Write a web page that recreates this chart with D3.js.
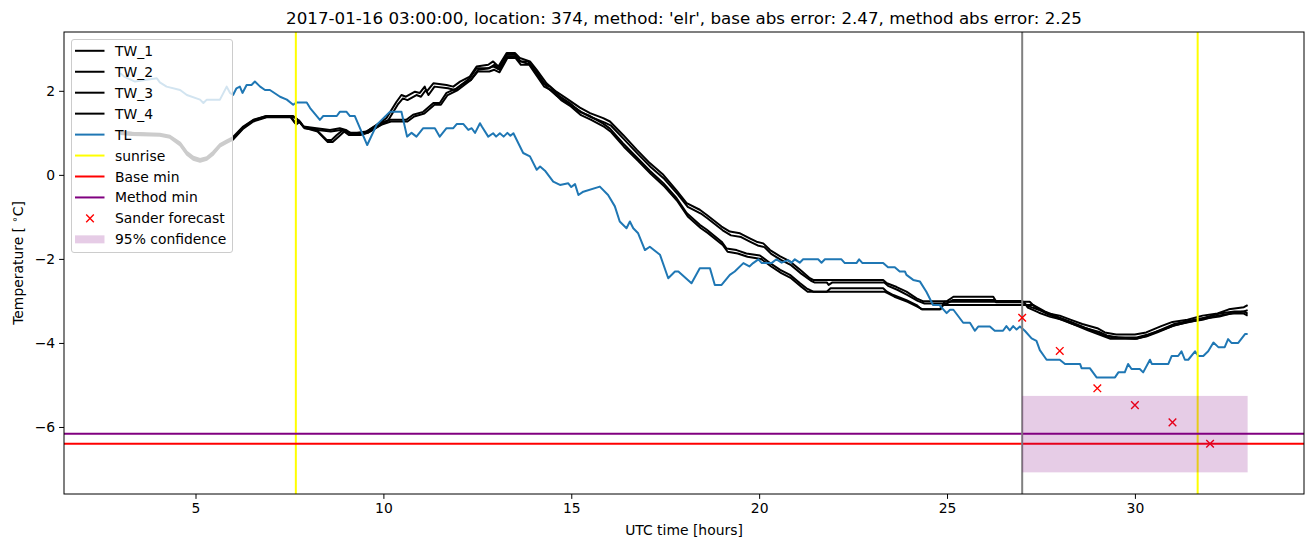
<!DOCTYPE html>
<html>
<head>
<meta charset="utf-8">
<script src="https://cdn.jsdelivr.net/npm/d3@7"></script>
<style>
  html, body { margin: 0; padding: 0; background: #fff; }
  svg { display: block; font-family: "DejaVu Sans", sans-serif; }
</style>
</head>
<body>
<svg id="chart" width="1313" height="547"></svg>
<script>
// ---------------- data ----------------
const titleText = "2017-01-16 03:00:00, location: 374, method: 'elr', base abs error: 2.47, method abs error: 2.25";
const xLabel = "UTC time [hours]";
const xTicks = [5, 10, 15, 20, 25, 30];
const yTicks = [2, 0, -2, -4, -6];

const tw1 = [[3.0,1.03],[3.3,1.0],[4.05,0.98],[4.32,0.93],[4.59,0.77],[4.77,0.55],[4.94,0.43],[5.12,0.38],[5.3,0.42],[5.47,0.55],[5.65,0.73],[5.83,0.82],[6.0,0.9],[6.27,1.15],[6.54,1.31],[6.89,1.4],[7.51,1.4],[7.65,1.23],[7.75,1.3],[7.87,1.15],[8.22,1.07],[8.49,0.83],[8.62,0.83],[8.76,0.95],[8.93,1.07],[9.05,1.0],[9.3,1.0],[9.55,1.03],[9.82,1.19],[10.08,1.35],[10.35,1.74],[10.48,1.9],[10.6,1.86],[10.84,1.98],[10.97,1.95],[11.1,2.1],[11.15,1.98],[11.33,2.18],[11.68,2.14],[11.86,2.1],[12.04,2.22],[12.3,2.34],[12.48,2.58],[12.79,2.62],[12.92,2.7],[13.06,2.58],[13.28,2.9],[13.5,2.9],[13.63,2.78],[13.9,2.7],[14.08,2.5],[14.34,2.18],[14.6,1.98],[14.87,1.82],[15.23,1.6],[15.5,1.47],[15.85,1.35],[16.03,1.27],[16.38,0.95],[16.74,0.6],[17.09,0.28],[17.45,0.0],[17.8,-0.37],[18.07,-0.67],[18.42,-0.83],[18.6,-0.95],[19.0,-1.23],[19.22,-1.35],[19.49,-1.39],[19.75,-1.51],[19.93,-1.59],[20.11,-1.63],[20.29,-1.79],[20.56,-1.94],[20.82,-2.06],[21.09,-2.26],[21.35,-2.46],[21.44,-2.5],[23.3,-2.5],[23.4,-2.58],[23.66,-2.67],[23.92,-2.78],[24.19,-2.94],[24.37,-3.01],[24.99,-3.01],[25.17,-2.9],[26.23,-2.9],[26.3,-3.0],[27.0,-3.0],[27.1,-3.1],[27.4,-3.2],[27.7,-3.3],[28.0,-3.35],[28.3,-3.45],[28.6,-3.55],[29.0,-3.65],[29.2,-3.75],[29.5,-3.8],[30.0,-3.8],[30.3,-3.75],[30.7,-3.6],[31.0,-3.5],[31.4,-3.45],[31.8,-3.35],[32.2,-3.3],[32.5,-3.2],[32.9,-3.15],[33.0,-3.1]];

const tw2 = [[3.0,1.0],[3.3,0.97],[4.05,0.95],[4.32,0.9],[4.59,0.73],[4.77,0.5],[4.94,0.38],[5.12,0.33],[5.3,0.38],[5.47,0.5],[5.65,0.69],[5.83,0.78],[6.0,0.86],[6.27,1.12],[6.54,1.29],[6.89,1.38],[7.55,1.38],[7.68,1.2],[7.78,1.27],[7.9,1.12],[8.25,1.03],[8.52,0.78],[8.65,0.78],[8.8,0.9],[8.96,1.03],[9.08,0.95],[9.32,0.95],[9.58,1.0],[9.85,1.15],[10.12,1.29],[10.38,1.67],[10.52,1.82],[10.64,1.78],[10.88,1.9],[11.0,1.86],[11.13,2.02],[11.2,1.9],[11.36,2.1],[11.72,2.06],[11.9,2.02],[12.08,2.14],[12.33,2.26],[12.52,2.5],[12.82,2.54],[12.95,2.62],[13.09,2.5],[13.3,2.82],[13.52,2.82],[13.66,2.7],[13.92,2.62],[14.1,2.42],[14.36,2.08],[14.62,1.88],[14.9,1.72],[15.26,1.5],[15.53,1.37],[15.88,1.25],[16.06,1.17],[16.4,0.85],[16.77,0.5],[17.12,0.18],[17.48,-0.1],[17.83,-0.46],[18.1,-0.76],[18.45,-0.92],[18.63,-1.04],[19.03,-1.32],[19.25,-1.44],[19.52,-1.48],[19.78,-1.6],[19.96,-1.68],[20.14,-1.72],[20.32,-1.88],[20.59,-2.03],[20.85,-2.15],[21.12,-2.35],[21.38,-2.52],[21.47,-2.56],[21.8,-2.56],[21.85,-2.62],[21.95,-2.56],[23.33,-2.56],[23.43,-2.64],[23.69,-2.74],[23.95,-2.86],[24.22,-3.0],[24.4,-3.06],[25.0,-3.06],[25.15,-2.98],[26.25,-2.98],[26.3,-3.03],[27.05,-3.03],[27.15,-3.16],[27.45,-3.28],[27.75,-3.38],[28.05,-3.44],[28.35,-3.55],[28.65,-3.64],[29.05,-3.74],[29.25,-3.82],[29.55,-3.87],[30.05,-3.87],[30.35,-3.8],[30.75,-3.68],[31.05,-3.58],[31.45,-3.5],[31.85,-3.42],[32.25,-3.37],[32.55,-3.3],[32.9,-3.25],[33.0,-3.22]];

const tw3 = [[3.0,1.0],[3.3,1.0],[4.05,0.95],[4.32,0.91],[4.59,0.75],[4.77,0.52],[4.94,0.4],[5.12,0.36],[5.3,0.4],[5.47,0.52],[5.65,0.71],[5.83,0.79],[6.0,0.87],[6.27,1.13],[6.54,1.3],[6.89,1.4],[7.6,1.4],[7.7,1.33],[7.87,1.15],[8.22,1.11],[8.58,1.07],[8.84,1.11],[9.0,1.07],[9.15,0.98],[9.35,0.98],[9.55,1.03],[9.91,1.23],[10.17,1.31],[10.61,1.31],[10.79,1.43],[11.06,1.5],[11.33,1.71],[11.5,1.71],[11.68,1.95],[11.95,2.06],[12.3,2.3],[12.48,2.54],[12.79,2.54],[12.92,2.58],[13.06,2.52],[13.28,2.86],[13.5,2.86],[13.63,2.7],[13.86,2.7],[13.94,2.58],[14.25,2.18],[14.43,2.1],[14.7,1.86],[14.96,1.71],[15.23,1.5],[15.5,1.4],[15.85,1.22],[16.03,1.1],[16.38,0.75],[16.74,0.42],[17.09,0.1],[17.45,-0.2],[17.8,-0.55],[18.07,-0.91],[18.42,-1.19],[18.6,-1.3],[19.0,-1.59],[19.13,-1.75],[19.4,-1.79],[19.66,-1.87],[20.02,-1.92],[20.29,-2.1],[20.56,-2.26],[20.82,-2.38],[21.09,-2.58],[21.26,-2.7],[21.44,-2.78],[21.8,-2.78],[21.9,-2.7],[23.3,-2.7],[23.4,-2.78],[23.57,-2.86],[23.92,-2.98],[24.19,-3.1],[24.32,-3.2],[24.8,-3.2],[24.9,-3.1],[26.41,-3.1],[27.3,-3.1],[27.6,-3.25],[28.0,-3.4],[28.3,-3.5],[28.7,-3.65],[29.0,-3.75],[29.3,-3.85],[30.0,-3.9],[30.3,-3.85],[30.6,-3.75],[31.0,-3.6],[31.4,-3.5],[31.8,-3.45],[32.2,-3.35],[32.6,-3.3],[32.9,-3.3],[33.0,-3.35]];

const tw4 = [[3.0,0.97],[3.3,0.95],[4.05,0.93],[4.32,0.88],[4.59,0.7],[4.77,0.48],[4.94,0.36],[5.12,0.31],[5.3,0.36],[5.47,0.48],[5.65,0.67],[5.83,0.76],[6.0,0.84],[6.27,1.1],[6.54,1.27],[6.89,1.37],[7.63,1.37],[7.73,1.3],[7.9,1.11],[8.25,1.07],[8.6,1.03],[8.87,1.07],[9.03,1.03],[9.18,0.95],[9.38,0.95],[9.58,1.0],[9.94,1.19],[10.2,1.27],[10.64,1.27],[10.82,1.39],[11.09,1.46],[11.36,1.67],[11.53,1.67],[11.71,1.9],[11.98,2.02],[12.33,2.26],[12.51,2.46],[12.82,2.46],[12.95,2.5],[13.09,2.44],[13.3,2.78],[13.52,2.78],[13.66,2.62],[13.88,2.62],[13.97,2.5],[14.28,2.1],[14.46,2.02],[14.73,1.78],[14.99,1.63],[15.26,1.42],[15.53,1.31],[15.88,1.14],[16.06,1.02],[16.4,0.67],[16.77,0.34],[17.12,0.02],[17.48,-0.28],[17.83,-0.63],[18.1,-0.99],[18.45,-1.27],[18.63,-1.38],[19.03,-1.67],[19.16,-1.83],[19.43,-1.87],[19.69,-1.95],[20.05,-2.0],[20.32,-2.18],[20.59,-2.34],[20.85,-2.46],[21.12,-2.66],[21.29,-2.78],[21.47,-2.78],[23.33,-2.78],[23.43,-2.82],[23.6,-2.9],[23.95,-3.02],[24.22,-3.14],[24.35,-3.2],[24.83,-3.2],[24.93,-3.02],[27.2,-3.02],[27.35,-3.15],[27.65,-3.3],[28.05,-3.45],[28.35,-3.55],[28.75,-3.7],[29.05,-3.8],[29.35,-3.9],[30.05,-3.9],[30.35,-3.82],[30.65,-3.7],[31.05,-3.55],[31.45,-3.47],[31.85,-3.4],[32.25,-3.3],[32.65,-3.25],[32.9,-3.25],[33.0,-3.3]];

const tl = [[3.0,2.42],[3.1,2.34],[3.39,2.22],[3.97,2.3],[4.05,2.2],[4.23,2.1],[4.59,2.02],[4.77,1.9],[5.12,1.79],[5.21,1.71],[5.3,1.79],[5.65,1.79],[5.83,2.1],[5.92,1.95],[6.0,1.9],[6.09,2.06],[6.18,2.1],[6.25,1.95],[6.36,2.14],[6.49,2.14],[6.58,2.22],[6.72,2.1],[6.85,2.02],[6.98,2.02],[7.25,1.86],[7.43,1.79],[7.6,1.67],[7.69,1.72],[7.96,1.72],[8.05,1.59],[8.31,1.31],[8.4,1.4],[8.76,1.4],[8.84,1.5],[9.02,1.5],[9.11,1.4],[9.24,1.4],[9.57,0.71],[9.82,1.19],[10.17,1.5],[10.48,1.5],[10.63,0.91],[10.75,1.0],[10.88,0.91],[11.06,1.11],[11.37,1.11],[11.5,0.91],[11.68,1.11],[11.86,1.11],[11.95,1.21],[12.13,1.21],[12.26,1.07],[12.35,1.11],[12.44,1.0],[12.57,1.23],[12.62,1.15],[12.79,0.91],[12.92,0.99],[13.0,0.91],[13.1,0.99],[13.2,0.91],[13.3,1.0],[13.38,0.93],[13.46,0.99],[13.72,0.52],[13.9,0.44],[14.08,0.12],[14.17,0.2],[14.3,0.1],[14.52,-0.16],[14.7,-0.24],[14.92,-0.2],[15.0,-0.29],[15.1,-0.22],[15.19,-0.48],[15.32,-0.4],[15.76,-0.28],[15.98,-0.48],[16.16,-0.75],[16.29,-1.11],[16.47,-1.27],[16.56,-1.11],[16.65,-1.27],[16.78,-1.39],[16.96,-1.79],[17.09,-1.71],[17.36,-1.9],[17.58,-2.46],[17.76,-2.3],[17.85,-2.3],[18.2,-2.58],[18.42,-2.22],[18.69,-2.22],[18.82,-2.62],[19.0,-2.62],[19.22,-2.38],[19.35,-2.3],[19.58,-2.1],[19.74,-2.18],[19.84,-2.1],[19.98,-2.01],[20.07,-2.1],[20.33,-2.1],[20.46,-2.01],[20.6,-2.09],[20.77,-2.03],[20.86,-2.09],[20.95,-2.01],[21.08,-2.09],[21.17,-2.01],[21.57,-2.01],[21.66,-2.09],[21.75,-2.01],[22.19,-2.01],[22.28,-2.1],[22.59,-2.1],[22.66,-2.01],[22.75,-2.1],[23.3,-2.1],[23.43,-2.2],[23.61,-2.2],[23.74,-2.3],[23.88,-2.3],[23.92,-2.38],[24.1,-2.5],[24.28,-2.54],[24.45,-2.78],[24.63,-3.1],[24.8,-3.1],[24.99,-3.29],[25.08,-3.21],[25.17,-3.21],[25.43,-3.52],[25.61,-3.52],[25.74,-3.71],[25.83,-3.61],[26.14,-3.61],[26.27,-3.71],[26.49,-3.71],[26.58,-3.6],[26.67,-3.7],[26.76,-3.6],[26.85,-3.68],[26.94,-3.61],[27.07,-3.71],[27.25,-3.89],[27.38,-3.95],[27.47,-4.17],[27.65,-4.4],[28.0,-4.4],[28.14,-4.5],[28.54,-4.5],[28.58,-4.6],[28.8,-4.6],[28.98,-4.82],[29.47,-4.82],[29.56,-4.7],[29.73,-4.7],[29.82,-4.5],[29.91,-4.62],[30.13,-4.62],[30.22,-4.7],[30.4,-4.4],[30.45,-4.5],[30.89,-4.5],[30.98,-4.31],[31.15,-4.31],[31.24,-4.2],[31.33,-4.4],[31.42,-4.4],[31.6,-4.2],[31.69,-4.31],[31.82,-4.31],[31.95,-4.2],[32.09,-3.99],[32.22,-4.1],[32.39,-4.1],[32.48,-3.91],[32.57,-4.0],[32.75,-4.0],[32.93,-3.79],[33.0,-3.79]];

const sunriseTimes = [7.67, 31.67];
const forecastStart = 27;
const baseMin = -6.4;
const methodMin = -6.16;
const forecastTimes = [27, 28, 29, 30, 31, 32];
const forecastValues = [-3.4, -4.19, -5.08, -5.48, -5.89, -6.4];
const confTimes = [27, 33];
const confRange = [-7.08, -5.26];

const legendLabels = ["TW_1", "TW_2", "TW_3", "TW_4", "TL", "sunrise", "Base min", "Method min", "Sander forecast", "95% confidence"];

// ---------------- layout ----------------
const svg = d3.select("#chart");
const L = 64, R = 1304, T = 32, B = 494;
const x = d3.scaleLinear().domain([1.5, 34.5]).range([L, R]);
const y = d3.scaleLinear().domain([-7.595, 3.40]).range([B, T]);
const LW = 2;

svg.append("defs").append("clipPath").attr("id", "clip")
  .append("rect").attr("x", L).attr("y", T).attr("width", R - L).attr("height", B - T);

const plot = svg.append("g").attr("clip-path", "url(#clip)");
const line = d3.line().x(d => x(d[0])).y(d => y(d[1]));

[tw1, tw2, tw3, tw4].forEach(s => {
  plot.append("path").datum(s).attr("d", line)
    .attr("fill", "none").attr("stroke", "#000").attr("stroke-width", LW)
    .attr("stroke-linejoin", "round");
});
plot.append("path").datum(tl).attr("d", line)
  .attr("fill", "none").attr("stroke", "#1f77b4").attr("stroke-width", LW)
  .attr("stroke-linejoin", "round");

sunriseTimes.forEach(t => {
  plot.append("line").attr("x1", x(t)).attr("x2", x(t)).attr("y1", T).attr("y2", B)
    .attr("stroke", "#ffff00").attr("stroke-width", LW);
});
plot.append("line").attr("x1", L).attr("x2", R).attr("y1", y(baseMin)).attr("y2", y(baseMin))
  .attr("stroke", "#ff0000").attr("stroke-width", LW);
plot.append("line").attr("x1", L).attr("x2", R).attr("y1", y(methodMin)).attr("y2", y(methodMin))
  .attr("stroke", "#800080").attr("stroke-width", LW);
plot.append("line").attr("x1", x(forecastStart)).attr("x2", x(forecastStart)).attr("y1", T).attr("y2", B)
  .attr("stroke", "#808080").attr("stroke-width", LW);

const xm = 3.8;
forecastTimes.forEach((t, i) => {
  const cx = x(t), cy = y(forecastValues[i]);
  plot.append("path")
    .attr("d", `M${cx - xm},${cy - xm}L${cx + xm},${cy + xm}M${cx - xm},${cy + xm}L${cx + xm},${cy - xm}`)
    .attr("stroke", "#ff0000").attr("stroke-width", 1.4).attr("fill", "none");
});

plot.append("rect")
  .attr("x", x(confTimes[0])).attr("y", y(confRange[1]))
  .attr("width", x(confTimes[1]) - x(confTimes[0]))
  .attr("height", y(confRange[0]) - y(confRange[1]))
  .attr("fill", "#800080").attr("fill-opacity", 0.2);

// ---------------- axes ----------------
const FS = "13.9px";
const fmt = d => (d < 0 ? "\u2212" + Math.abs(d) : String(d));
const xAxis = svg.append("g").attr("transform", `translate(0,${B})`)
  .call(d3.axisBottom(x).tickValues(xTicks).tickFormat(fmt).tickSize(4.9).tickPadding(4));
const yAxis = svg.append("g").attr("transform", `translate(${L},0)`)
  .call(d3.axisLeft(y).tickValues(yTicks).tickFormat(fmt).tickSize(4.9).tickPadding(4));
[xAxis, yAxis].forEach(a => {
  a.select(".domain").remove();
  a.selectAll("line").attr("stroke", "#000").attr("stroke-width", 1);
  a.selectAll("text").attr("fill", "#000").style("font-size", FS).style("font-family", "DejaVu Sans");
});
svg.append("rect").attr("x", L).attr("y", T).attr("width", R - L).attr("height", B - T)
  .attr("fill", "none").attr("stroke", "#000").attr("stroke-width", 1);

svg.append("text").attr("x", (L + R) / 2).attr("y", 535).attr("text-anchor", "middle")
  .style("font-size", FS).text(xLabel);
const yl = svg.append("text").attr("transform", `translate(23,${(T + B) / 2}) rotate(-90)`)
  .attr("text-anchor", "middle").style("font-size", FS);
yl.append("tspan").text("Temperature [ ");
yl.append("tspan").attr("dy", -5.5).style("font-size", "10px").text("\u2218");
yl.append("tspan").attr("dy", 5.5).text("C]");

svg.append("text").attr("x", (L + R) / 2).attr("y", 24).attr("text-anchor", "middle")
  .style("font-size", "16.7px").text(titleText);

// ---------------- legend ----------------
const lg = svg.append("g");
lg.append("rect").attr("x", 71.5).attr("y", 39.5).attr("width", 161).attr("height", 213)
  .attr("rx", 2.5).attr("fill", "#fff").attr("fill-opacity", 0.8)
  .attr("stroke", "#cccccc").attr("stroke-width", 1);
const legendStyles = [
  {type: "line", color: "#000"}, {type: "line", color: "#000"}, {type: "line", color: "#000"},
  {type: "line", color: "#000"}, {type: "line", color: "#1f77b4"}, {type: "line", color: "#ffff00"},
  {type: "line", color: "#ff0000"}, {type: "line", color: "#800080"},
  {type: "marker", color: "#ff0000"}, {type: "patch", color: "#800080"}
];
legendLabels.forEach((lab, i) => {
  const cy = 50.8 + i * 20.95;
  const st = legendStyles[i];
  if (st.type === "line") {
    lg.append("line").attr("x1", 75).attr("x2", 104.5).attr("y1", cy).attr("y2", cy)
      .attr("stroke", st.color).attr("stroke-width", LW);
  } else if (st.type === "marker") {
    const cx = 90;
    lg.append("path")
      .attr("d", `M${cx - xm},${cy - xm}L${cx + xm},${cy + xm}M${cx - xm},${cy + xm}L${cx + xm},${cy - xm}`)
      .attr("stroke", st.color).attr("stroke-width", 1.4);
  } else {
    lg.append("rect").attr("x", 75).attr("y", cy - 4).attr("width", 29.5).attr("height", 8)
      .attr("fill", st.color).attr("fill-opacity", 0.2);
  }
  lg.append("text").attr("x", 115).attr("y", cy + 5).style("font-size", FS).text(lab);
});
</script>
</body>
</html>
